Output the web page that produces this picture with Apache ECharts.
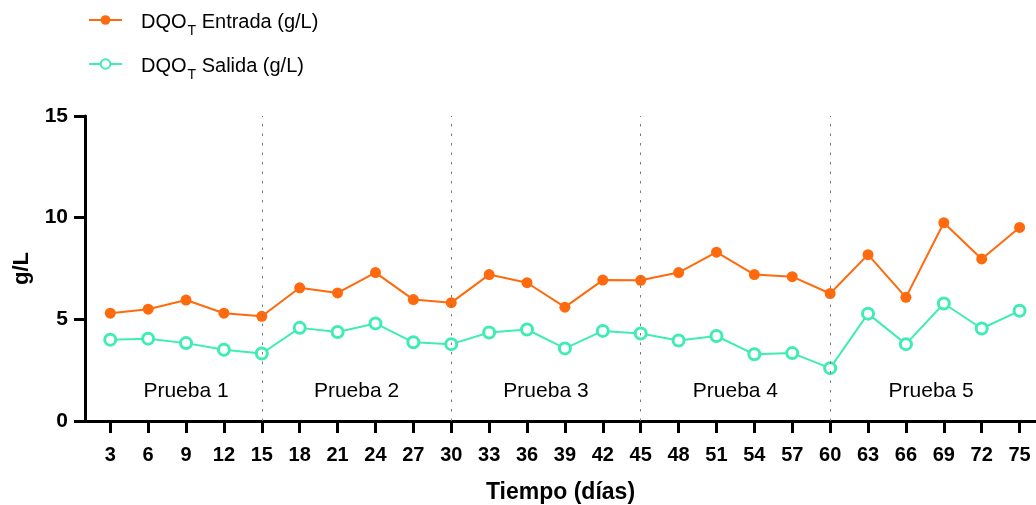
<!DOCTYPE html>
<html>
<head>
<meta charset="utf-8">
<script src="https://cdn.jsdelivr.net/npm/echarts@6/dist/echarts.min.js"></script>
<style>
  html, body { margin: 0; padding: 0; background: #fff; }
  #chart { width: 1036px; height: 505px; }
</style>
</head>
<body>
<div id="chart"></div>
<script>
// Sampling days (días)
const days = [3, 6, 9, 12, 15, 18, 21, 24, 27, 30, 33, 36, 39, 42, 45, 48, 51, 54, 57, 60, 63, 66, 69, 72, 75];
// DQO_T at the inlet (g/L)
const entrada = [5.3, 5.5, 5.95, 5.3, 5.15, 6.55, 6.3, 7.3, 5.97, 5.82, 7.2, 6.8, 5.6, 6.93, 6.92, 7.3, 8.3, 7.2, 7.1, 6.27, 8.18, 6.08, 9.75, 7.97, 9.52];
// DQO_T at the outlet (g/L)
const salida = [4.0, 4.05, 3.83, 3.5, 3.32, 4.58, 4.38, 4.8, 3.87, 3.78, 4.35, 4.5, 3.57, 4.43, 4.3, 3.96, 4.18, 3.28, 3.34, 2.6, 5.28, 3.78, 5.78, 4.55, 5.42];
// Day boundaries between test periods
const boundaries = [15, 30, 45, 60];
// Test period names and where their captions sit (day, g/L)
const testNames = ['Prueba 1', 'Prueba 2', 'Prueba 3', 'Prueba 4', 'Prueba 5'];
const testNameDays = [9, 22.5, 37.5, 52.5, 68];
const testNameLevel = 1.45;
// Y-axis ticks
const yTicks = [0, 5, 10, 15];

const FONT = '"Liberation Sans", Arial, Helvetica, sans-serif';
const ORANGE = '#ff6a0e';
const GREEN = '#41ecb4';

const chart = echarts.init(document.getElementById('chart'), null, { renderer: 'canvas' });

const legendRich = {
  a: { fontFamily: FONT, fontSize: 20, color: '#000', lineHeight: 24, verticalAlign: 'bottom' },
  sub: { fontFamily: FONT, fontSize: 14, color: '#000', lineHeight: 24, verticalAlign: 'bottom', padding: [0, 0, -6, 1] }
};

chart.setOption({
  animation: false,
  backgroundColor: '#ffffff',
  textStyle: { fontFamily: FONT },
  legend: {
    orient: 'vertical',
    left: 83,
    top: 7,
    itemWidth: 33,
    itemHeight: 12,
    itemGap: 18,
    data: ['entrada', 'salida'],
    formatter: function (name) {
      return name === 'entrada'
        ? '{a|DQO}{sub|T}{a| Entrada (g/L)}'
        : '{a|DQO}{sub|T}{a| Salida (g/L)}';
    },
    textStyle: { rich: legendRich, padding: [0, 0, 0, 14] }
  },
  grid: { left: 85, right: 0, top: 116, bottom: 84, containLabel: false, outerBoundsMode: 'none' },
  xAxis: {
    type: 'value',
    min: 1,
    max: 76.3,
    name: 'Tiempo (días)',
    nameLocation: 'middle',
    nameGap: 60,
    nameTextStyle: { fontFamily: FONT, fontSize: 23, fontWeight: 'bold', color: '#000' },
    axisLine: { show: true, lineStyle: { color: '#000', width: 3 } },
    axisTick: { show: true, length: 12, lineStyle: { color: '#000', width: 3 }, customValues: days },
    axisLabel: { margin: 24, fontFamily: FONT, fontSize: 20, fontWeight: 'bold', color: '#000', customValues: days },
    splitLine: { show: false }
  },
  yAxis: {
    type: 'value',
    min: 0,
    max: 15,
    interval: 5,
    name: 'g/L',
    nameLocation: 'middle',
    nameGap: 52,
    nameTextStyle: { fontFamily: FONT, fontSize: 22, fontWeight: 'bold', color: '#000' },
    axisLine: { show: true, lineStyle: { color: '#000', width: 3 } },
    axisTick: { show: true, length: 11, lineStyle: { color: '#000', width: 3 } },
    axisLabel: { margin: 17, fontFamily: FONT, fontSize: 21, fontWeight: 'bold', color: '#000', customValues: yTicks },
    splitLine: { show: false }
  },
  series: [
    {
      name: 'entrada',
      type: 'line',
      data: days.map((d, i) => [d, entrada[i]]),
      symbol: 'circle',
      symbolSize: 11,
      itemStyle: { color: ORANGE },
      lineStyle: { color: ORANGE, width: 2 },
      z: 4,
      markLine: {
        silent: true,
        symbol: 'none',
        label: { show: false },
        lineStyle: { color: '#7a7a7a', width: 1, type: [2.5, 7] },
        data: boundaries.map(b => ({ xAxis: b }))
      }
    },
    {
      name: 'salida',
      type: 'line',
      data: days.map((d, i) => [d, salida[i]]),
      symbol: 'circle',
      symbolSize: 11,
      itemStyle: { color: '#ffffff', borderColor: GREEN, borderWidth: 3 },
      lineStyle: { color: GREEN, width: 2 },
      z: 3
    },
    {
      name: 'pruebas',
      type: 'scatter',
      symbolSize: 0,
      silent: true,
      itemStyle: { opacity: 1 },
      data: testNames.map((n, i) => ({ value: [testNameDays[i], testNameLevel], name: n })),
      label: {
        show: true,
        position: 'inside',
        formatter: p => p.name,
        fontFamily: FONT,
        fontSize: 21,
        color: '#000'
      },
      z: 2
    }
  ]
});
</script>
</body>
</html>
